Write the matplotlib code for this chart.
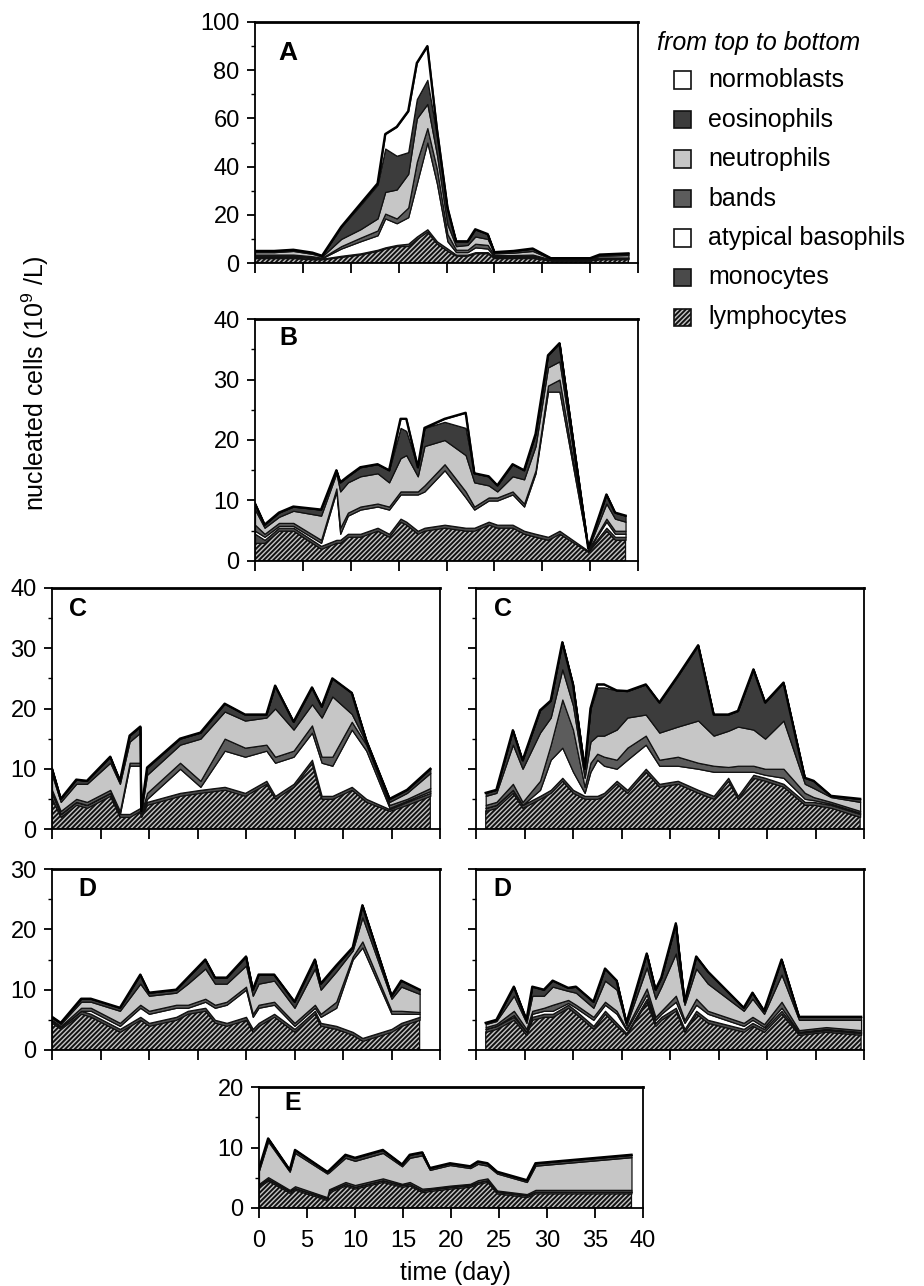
import numpy as np
import matplotlib
matplotlib.use('Agg')
import matplotlib.pyplot as plt
from matplotlib.patches import Rectangle

plt.rcParams['font.family'] = ['Liberation Sans', 'DejaVu Sans']
plt.rcParams['mathtext.default'] = 'regular'
plt.rcParams['hatch.linewidth'] = 1.4

# ---------------- data (10^9 cells / L) ----------------
layer_names = ['lymphocytes', 'monocytes', 'atypical basophils', 'bands',
               'neutrophils', 'eosinophils', 'normoblasts']

# Panel A
A_days  = [0, 2, 4, 6, 7, 9, 11, 12.8, 13.6, 14.8, 16, 16.9, 18, 19, 20.1, 21, 22.2, 23, 24.3, 25, 27, 29, 30.9, 35, 36, 39]
A_lymph = [2, 2, 2, 1.5, 1.5, 2.5, 3.5, 5, 6, 7, 7, 10, 13, 8, 5, 3, 3, 4, 4, 2, 2, 2, 1, 1, 1.5, 1.5]
A_mono  = [0.5, 0.5, 0.5, 0.5, 0.3, 0.5, 0.5, 0.5, 0.5, 0.5, 1, 1, 1, 1, 1, 0.5, 0.5, 0.5, 0.5, 0.5, 0.5, 0.5, 0.2, 0.2, 0.3, 0.3]
A_atyp  = [0.5, 0.5, 0.5, 0.3, 0.2, 3, 5, 6, 12, 9, 11, 22, 36, 24, 3, 1, 1, 2, 1.5, 0.3, 0.3, 0.5, 0.1, 0.1, 0.2, 0.2]
A_bands = [0.5, 0.5, 0.5, 0.5, 0.2, 1, 1.5, 2, 2, 2, 4, 9, 6, 6, 3, 1, 1, 1.5, 1.5, 0.5, 0.5, 0.5, 0.2, 0.2, 0.3, 0.3]
A_neut  = [1, 1, 1.5, 1, 0.5, 3, 3.5, 5, 9, 12, 14, 18, 10, 6, 4, 1.5, 2, 3, 2.5, 0.7, 1, 1.5, 0.3, 0.3, 0.7, 1]
A_eos   = [0.5, 0.5, 0.5, 0.5, 0.3, 5, 10, 14, 18, 14, 9, 8, 10, 8, 6, 2, 1.5, 3, 2, 0.5, 0.7, 1, 0.2, 0.2, 0.5, 0.7]
A_normo = [0, 0, 0, 0, 0, 0, 0.5, 0.5, 6, 12, 17, 15, 14, 2.5, 1, 0, 0, 0, 0, 0, 0, 0, 0, 0, 0, 0]

# Panel B
B_days  = [0, 1, 2.5, 4, 6.9, 8.5, 8.9, 9.7, 11, 12.8, 14, 15.2, 15.8, 17, 17.7, 19.8, 22, 22.9, 24.4, 25.3, 26.9, 28.1, 29.3, 30.6, 31.8, 34.8, 36.7, 37.6, 38.7]
B_lymph = [3, 3, 5, 5, 2, 3, 3, 4, 4, 5, 4, 6.5, 6, 4.5, 5, 5.5, 5, 5, 6, 5.5, 5.5, 4.5, 4, 3.5, 4.5, 1.5, 5, 3.5, 3.5]
B_mono  = [1.5, 0.5, 0.5, 0.5, 0.5, 0.5, 0.5, 0.5, 0.5, 0.5, 0.5, 0.5, 0.5, 0.5, 0.5, 0.5, 0.5, 0.5, 0.5, 0.5, 0.5, 0.5, 0.5, 0.5, 0.5, 0.2, 0.5, 0.5, 0.5]
B_atyp  = [0.5, 0.5, 0.3, 0.3, 0.5, 8, 1, 3, 4, 3.5, 4, 4, 4.5, 6, 6, 9, 5, 3, 3.5, 4, 5, 4, 10, 24, 23, 0.1, 1, 0.5, 0.5]
B_bands = [1, 0.5, 0.5, 0.5, 0.5, 0.5, 1, 0.5, 0.5, 0.5, 0.5, 0.5, 0.5, 0.5, 1, 1, 1, 0.5, 0.5, 0.5, 0.5, 0.5, 0.5, 1, 2, 0.1, 0.5, 0.5, 0.5]
B_neut  = [2.5, 1, 1, 2, 4, 2.5, 6, 5, 5, 5, 4, 5.5, 6, 2.5, 6.5, 4, 6, 4, 2, 1, 2.5, 4, 4, 3, 3, 0.1, 2.5, 2, 1.5]
B_eos   = [1, 0.5, 0.7, 0.7, 1, 0.5, 1.5, 1, 1.5, 1.5, 2, 5, 4, 1.5, 3, 3, 4.5, 1.5, 1.5, 1, 2, 1.5, 2, 2, 3, 0.1, 1.5, 1, 1]
B_normo = [0, 0, 0, 0, 0, 0, 0, 0, 0, 0, 0, 1.5, 2, 0, 0, 0.5, 2.5, 0, 0, 0, 0, 0, 0, 0, 0, 0, 0, 0, 0]

# Panel C (left)
C1_days  = [0, 0.9, 2.5, 3.6, 6, 7, 8, 9.1, 9.2, 9.8, 13.2, 15.3, 17.8, 19.9, 22.1, 23, 24.9, 26.8, 27.8, 28.9, 30.9, 32.4, 34.8, 36.6, 39]
C1_lymph = [5, 2, 4, 3.5, 5.5, 2, 2, 3, 2, 4, 5.5, 6, 6.5, 5.5, 7.5, 5, 7, 11, 5, 5, 6.5, 4.5, 3, 4, 5.5]
C1_mono  = [1, 0.5, 0.5, 0.5, 0.5, 0.5, 0.5, 0.5, 0.3, 0.5, 0.5, 0.5, 0.5, 0.5, 0.5, 0.5, 0.5, 0.5, 0.5, 0.5, 0.5, 0.5, 0.3, 0.5, 0.5]
C1_atyp  = [0, 0, 0, 0, 0, 0, 8, 7, 0.2, 0.5, 4, 0.5, 6, 6, 5, 5.5, 4.5, 4.5, 5.5, 5, 9.5, 8, 0.2, 0.2, 0.3]
C1_bands = [0.5, 0.5, 0.5, 0.5, 0.5, 0.5, 0.5, 0.5, 0.2, 1, 1, 1, 2, 1.5, 1, 1, 1, 1.2, 1, 1.5, 1.3, 1, 0.5, 0.3, 0.5]
C1_neut  = [2.5, 1.5, 2.5, 3, 4.5, 4.5, 3.5, 5, 0.2, 3, 3, 7, 4.5, 4.5, 4.5, 8, 3.5, 3.5, 6.5, 10, 1.3, 0.3, 0.5, 1, 2.5]
C1_eos   = [1, 0.5, 0.7, 0.5, 1, 0.5, 1, 1, 0.1, 1.2, 1, 1, 1.3, 1, 0.5, 3.8, 1.3, 2.8, 1.8, 3, 3.5, 0.4, 0.5, 0.5, 0.7]
C1_normo = [0] * 25

# Panel C (right)
C2_days  = [1, 2.1, 3.8, 4.8, 6.6, 7.7, 8.9, 10, 11.2, 11.8, 12.5, 13.2, 14.5, 15.6, 17.5, 18.9, 20.8, 22.9, 24.5, 26, 27, 28.6, 29.8, 31.7, 33.9, 34.8, 36.6, 39.6]
C2_lymph = [3, 3.5, 6, 3.5, 5, 6, 8, 6, 5, 5, 5, 5.5, 7.5, 6, 9.5, 7, 7.5, 6, 5, 8, 5, 8.5, 8, 7, 4, 4, 3.5, 2]
C2_mono  = [0.5] * 28
C2_atyp  = [0, 0, 0, 0, 1, 5, 5, 3, 0.5, 4, 6, 4.5, 2, 5, 4, 3, 2.5, 3.5, 4, 1, 4, 0.5, 0.5, 1, 0.5, 0.3, 0.2, 0.2]
C2_bands = [0.5, 0.5, 1, 0.5, 1.5, 2.5, 8, 7, 1, 1.5, 1, 1.5, 1.5, 2, 1.5, 1, 1.5, 1, 1, 0.8, 1, 1, 1, 1.5, 1, 0.5, 0.3, 0.3]
C2_neut  = [1.5, 1.5, 6.5, 5.5, 8, 4.5, 5, 4, 1.5, 3.5, 3, 3.5, 5, 5, 3.5, 4.5, 5, 7, 5, 6, 6.5, 6, 5, 8, 1.5, 1.5, 0.8, 1.5]
C2_eos   = [0.5, 0.5, 2.4, 1.4, 3.7, 2.8, 4.5, 3.5, 1.5, 5.5, 8, 8, 6.5, 4.4, 5, 5, 8.4, 12.5, 3.5, 2.7, 2.6, 10, 6, 6.3, 1, 1.2, 0.2, 0.5]
C2_normo = [0, 0, 0, 0, 0, 0, 0, 0, 0, 0, 0.5, 0.5, 0, 0, 0, 0, 0, 0, 0, 0, 0, 0, 0, 0, 0, 0, 0, 0]

# Panel D (left)
D1_days  = [0, 0.9, 3, 4, 7, 9.1, 10, 12.8, 14, 15.8, 16.8, 18, 20, 20.7, 21.3, 22.9, 25, 27.1, 27.7, 29.3, 31, 32, 35, 36, 37.9]
D1_lymph = [4.5, 3.5, 6, 5.5, 3, 5, 4, 5, 6, 6.5, 4.5, 4, 5, 3, 4, 5.5, 3, 6, 4, 3.5, 2.5, 1.5, 3, 4, 5]
D1_mono  = [0.3, 0.3] + [0.5] * 23
D1_atyp  = [0, 0, 0, 0.5, 0.5, 1.5, 1.5, 1.5, 0.5, 1, 2, 3, 4.5, 2, 2.5, 1.5, 0.5, 0.5, 1, 3, 12, 15, 2.5, 1.5, 0.5]
D1_bands = [0.2, 0.2, 0.5, 0.5, 0.5, 0.5, 0.5, 0.5, 0.5, 0.5, 0.5, 0.5, 0.5, 0.5, 0.5, 0.5, 0.5, 0.5, 0.5, 1, 0.5, 1, 0.5, 0.5, 0.3]
D1_neut  = [0.3, 0.3, 1, 1, 2, 3.5, 2.5, 2, 3.5, 5, 3.5, 3, 3.5, 3, 3.5, 3.5, 2.5, 6, 4, 5, 1, 4, 2, 4, 3]
D1_eos   = [0.2, 0.2, 0.5, 0.5, 0.5, 1.5, 0.5, 0.5, 1, 1.5, 1, 1, 1.5, 1, 1.5, 1, 1, 1.5, 1, 1, 0.5, 2, 0.5, 1, 0.7]
D1_normo = [0] * 25

# Panel D (right)
D2_days  = [1, 2.1, 3.9, 5.2, 5.8, 7, 7.9, 9.5, 10.3, 12.1, 13.3, 14.5, 15.5, 17.6, 18.5, 19.1, 20.6, 21.5, 22.7, 23.9, 27.6, 28.5, 29.7, 31.5, 33.3, 36.1, 39.7]
D2_lymph = [3, 3.5, 5, 2.5, 5, 5.5, 5.5, 7, 6, 3.5, 6, 4, 2.5, 8, 4, 5, 6.5, 3, 6, 4.5, 3, 4, 3, 6, 2.5, 3, 2.5]
D2_mono  = [0.5, 0.5, 0.5, 0.5, 0.5, 0.5, 0.5, 0.5, 0.5, 0.5, 0.5, 0.5, 0.3, 0.5, 0.5, 0.5, 0.5, 0.5, 0.5, 0.5, 0.5, 0.5, 0.5, 0.5, 0.3, 0.3, 0.3]
D2_atyp  = [0, 0, 0.3, 0, 0.5, 0.5, 0.5, 0.3, 0.5, 1, 1, 1.5, 0.5, 0.7, 0.5, 0.5, 1, 1, 1, 1, 0.5, 0.5, 0.3, 0.5, 0.2, 0.2, 0.2]
D2_bands = [0.3, 0.3, 0.7, 0.5, 0.5, 0.5, 1, 0.5, 0.5, 0.5, 0.5, 0.5, 0.3, 1, 0.5, 0.5, 1, 0.5, 1, 0.5, 0.5, 0.5, 0.5, 1, 0.3, 0.3, 0.3]
D2_neut  = [0.5, 0.5, 2.5, 1, 2.5, 2, 3, 1.5, 2, 1.5, 3.5, 3.5, 0.5, 3.5, 3, 4, 7, 2.5, 5, 4.5, 2, 3, 1.7, 4.5, 1.7, 1.2, 1.7]
D2_eos   = [0.2, 0.2, 1.5, 0.5, 1.5, 1, 1, 0.5, 1, 1, 2, 1.5, 0.4, 2.3, 1.5, 1.5, 5, 0.5, 2, 2, 0.5, 1, 0.5, 2.5, 0.5, 0.5, 0.5]
D2_normo = [0] * 27

# Panel E
E_days  = [0, 0.95, 3.2, 3.75, 7.1, 7.3, 9, 10, 12.9, 14.9, 15.7, 17, 17.8, 19.9, 22, 22.8, 23.8, 24.8, 27.9, 28.8, 38.8]
E_lymph = [3.5, 4.5, 2.5, 3, 1.3, 2.6, 3.7, 3.2, 4.3, 3.5, 3.7, 2.6, 2.8, 3.2, 3.5, 4, 4.3, 2.4, 1.8, 2.4, 2.4]
E_mono  = [0.3] * 21
E_atyp  = [0] * 21
E_bands = [0.2, 0.3, 0.2, 0.3, 0.2, 0.2, 0.3, 0.3, 0.3, 0.2, 0.3, 0.3, 0.2, 0.2, 0.2, 0.3, 0.3, 0.2, 0.2, 0.3, 0.3]
E_neut  = [2.2, 5.9, 3, 5.5, 3.9, 2.8, 4, 4, 4.2, 2.9, 4, 5.5, 3, 3.4, 2.6, 2.7, 2.1, 2.8, 2, 4, 5.4]
E_eos   = [0.3, 0.5, 0.3, 0.5, 0.3, 0.3, 0.5, 0.5, 0.5, 0.3, 0.5, 0.5, 0.3, 0.3, 0.3, 0.4, 0.4, 0.3, 0.3, 0.4, 0.4]
E_normo = [0] * 21

# ---------------- styling ----------------
face = {'lymphocytes': '#c4c4c4', 'monocytes': '#4a4a4a',
        'atypical basophils': 'white', 'bands': '#5c5c5c',
        'neutrophils': '#c6c6c6', 'eosinophils': '#3c3c3c',
        'normoblasts': 'white'}
hatch = {'lymphocytes': '///////'}

W, H = 924, 1286
fig = plt.figure(figsize=(W / 100, H / 100), dpi=100)


def add_ax(l, r, t, b):
    return fig.add_axes([l / W, 1 - b / H, (r - l) / W, (b - t) / H])


def draw(ax, days, layers, ymax, ystep, letter, loff, ylabels, xlabels, fs_letter=18):
    x = np.asarray(days, float)
    base = np.zeros_like(x)
    for name, vals in zip(layer_names, layers):
        top = base + np.asarray(vals, float)
        ax.fill_between(x, base, top, facecolor=face[name],
                        edgecolor='#111111', hatch=hatch.get(name),
                        linewidth=0.9, zorder=2)
        base = top
    ax.plot(x, base, color='black', lw=1.7, zorder=3)
    ax.set_xlim(0, 40)
    ax.set_ylim(0, ymax)
    ax.set_xticks(np.arange(0, 41, 5))
    ax.set_yticks(np.arange(0, ymax + 0.1, ystep))
    ax.set_yticks(np.arange(ystep / 2, ymax, ystep), minor=True)
    ax.tick_params(axis='x', direction='out', length=7, width=1.3,
                   labelsize=17, pad=9, labelbottom=xlabels)
    ax.tick_params(axis='y', which='major', direction='out', length=6,
                   width=1.3, labelsize=17, pad=5, labelleft=ylabels)
    ax.tick_params(axis='y', which='minor', direction='out', length=3, width=1.0)
    for s in ax.spines.values():
        s.set_linewidth(1.3)
    ax.spines['top'].set_linewidth(2.0)
    bb = ax.get_position()
    wpx, hpx = bb.width * W, bb.height * H
    ax.text(loff[0] / wpx, 1 - loff[1] / hpx, letter, transform=ax.transAxes,
            ha='center', va='center', fontsize=fs_letter, fontweight='bold', zorder=5)


axA = add_ax(255, 638, 22, 263)
draw(axA, A_days, [A_lymph, A_mono, A_atyp, A_bands, A_neut, A_eos, A_normo],
     100, 20, 'A', (33, 31), True, False, fs_letter=19)

axB = add_ax(255, 638, 319, 561)
draw(axB, B_days, [B_lymph, B_mono, B_atyp, B_bands, B_neut, B_eos, B_normo],
     40, 10, 'B', (33, 19), True, False)

axC1 = add_ax(52, 440, 588, 829)
draw(axC1, C1_days, [C1_lymph, C1_mono, C1_atyp, C1_bands, C1_neut, C1_eos, C1_normo],
     40, 10, 'C', (26, 21), True, False)

axC2 = add_ax(476, 864, 588, 829)
draw(axC2, C2_days, [C2_lymph, C2_mono, C2_atyp, C2_bands, C2_neut, C2_eos, C2_normo],
     40, 10, 'C', (27, 21), False, False)

axD1 = add_ax(52, 440, 869, 1050)
draw(axD1, D1_days, [D1_lymph, D1_mono, D1_atyp, D1_bands, D1_neut, D1_eos, D1_normo],
     30, 10, 'D', (35, 20), True, False)

axD2 = add_ax(476, 864, 869, 1050)
draw(axD2, D2_days, [D2_lymph, D2_mono, D2_atyp, D2_bands, D2_neut, D2_eos, D2_normo],
     30, 10, 'D', (26, 20), False, False)

axE = add_ax(259, 643, 1087, 1208)
draw(axE, E_days, [E_lymph, E_mono, E_atyp, E_bands, E_neut, E_eos, E_normo],
     20, 10, 'E', (34, 16), True, True)

# ---------------- legend ----------------
legend_order = ['normoblasts', 'eosinophils', 'neutrophils', 'bands',
                'atypical basophils', 'monocytes', 'lymphocytes']
fig.text(657 / W, 1 - 43 / H, 'from top to bottom', style='italic',
         fontsize=18, ha='left', va='center')
row_y = [80, 119.5, 159, 198.5, 238, 277.5, 317]
sq = 17
for name, yc in zip(legend_order, row_y):
    rect = Rectangle(((682 - sq / 2) / W, 1 - (yc + sq / 2) / H), sq / W, sq / H,
                     transform=fig.transFigure, facecolor=face[name],
                     edgecolor='#111111', hatch=hatch.get(name), linewidth=1.2)
    fig.patches.append(rect)
    fig.text(708 / W, 1 - yc / H, name, fontsize=18, ha='left', va='center')

fig.text(35 / W, 1 - 383 / H, 'nucleated cells (10$^{9}$ /L)', rotation=90,
         fontsize=18, ha='center', va='center')
fig.text(455 / W, 1 - 1273 / H, 'time (day)', fontsize=18, ha='center', va='center')

fig.savefig('out.png', dpi=100)
